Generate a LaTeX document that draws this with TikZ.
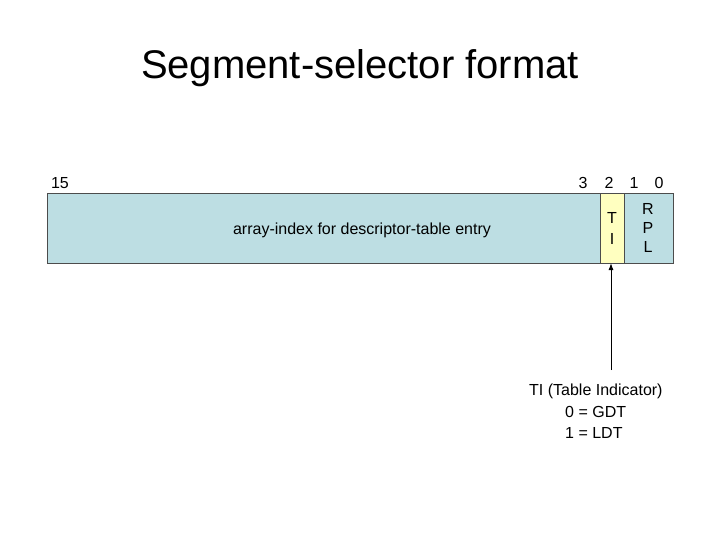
\documentclass[tikz,border=0pt]{standalone}
\usepackage{fontspec}
\setmainfont{Liberation Sans}
\usetikzlibrary{arrows.meta}
\definecolor{fieldblue}{HTML}{BDDEE3}
\definecolor{fieldyellow}{HTML}{FFFFC0}
\begin{document}
\begin{tikzpicture}[x=1pt,y=-1pt,
  lbl/.style={font=\fontsize{16}{19}\selectfont, inner sep=0pt},
  fld/.style={draw=black!70, line width=0.6pt}]
\useasboundingbox (0,0) rectangle (720,540);
\node[font=\fontsize{40}{46}\selectfont] (title) at (360,68) {Segment-selector format};
\draw[fld, fill=fieldblue] (47,193) rectangle (600,263);
\draw[fld, fill=fieldyellow] (600,193) rectangle (624,263);
\draw[fld, fill=fieldblue] (624,193) rectangle (673,263);
\node[lbl] (idx) at (362,230) {array-index for descriptor-table entry};
\node[lbl, align=center, font=\fontsize{16}{21}\selectfont] (ti) at (612,228) {T\\I};
\node[lbl, align=center, font=\fontsize{16}{19}\selectfont] (rpl) at (648,228) {R\\P\\L};
\node[lbl] (b15) at (60,183) {15};
\node[lbl] (b3) at (583,183) {3};
\node[lbl] (b2) at (609,183) {2};
\node[lbl] (b1) at (634,183) {1};
\node[lbl] (b0) at (659,183) {0};
\coordinate (tibot) at (611,263);
\node[lbl, align=left, anchor=north west, font=\fontsize{16}{21.5}\selectfont] (note) at (529,384) {TI (Table Indicator)\\\hspace*{36pt}0 = GDT\\\hspace*{36pt}1 = LDT};
\coordinate (arrstart) at (611,370);
\draw[-{Latex[length=7pt,width=5pt]}, line width=1pt] (arrstart) -- (tibot);
\end{tikzpicture}
\end{document}
